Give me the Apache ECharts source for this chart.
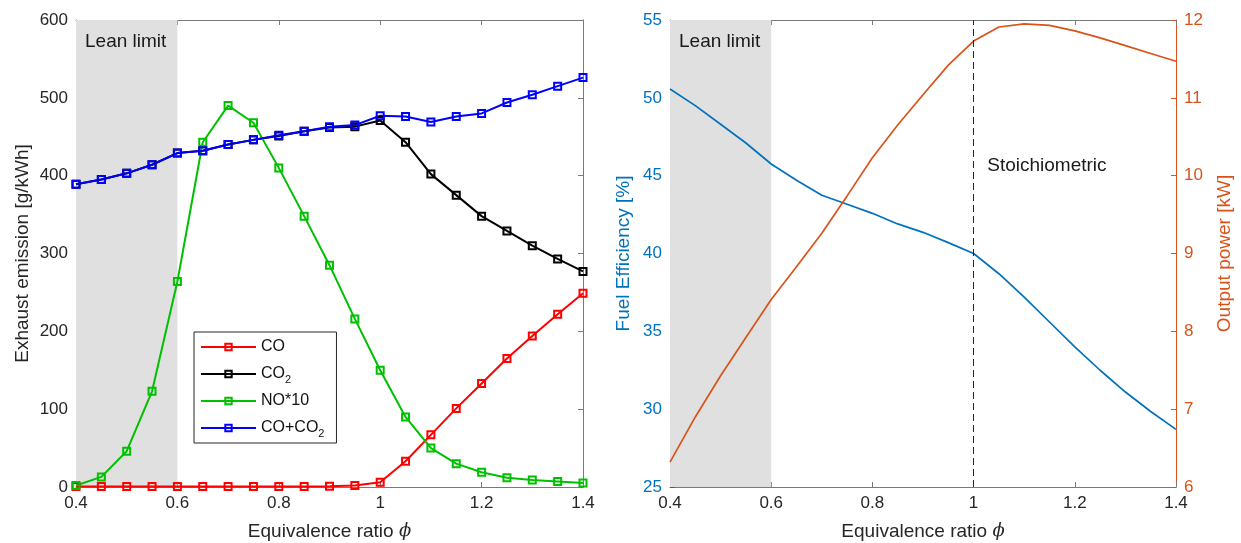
<!DOCTYPE html>
<html>
<head>
  <meta charset="UTF-8">
  <title>Emission and efficiency vs equivalence ratio</title>
  <script src="https://cdn.jsdelivr.net/npm/echarts@6/dist/echarts.min.js"></script>
  <style>
    html, body { margin: 0; padding: 0; background: #fff; }
  </style>
</head>
<body>
<div id="main" style="width: 1241px;height:543px;"></div>
<script type="text/javascript">
  // equivalence ratio samples
  var phi = [0.4, 0.45, 0.5, 0.55, 0.6, 0.65, 0.7, 0.75, 0.8, 0.85, 0.9, 0.95,
             1.0, 1.05, 1.1, 1.15, 1.2, 1.25, 1.3, 1.35, 1.4];

  // left panel, exhaust emission [g/kWh]
  var co    = [0.5, 0.5, 0.5, 0.5, 0.5, 0.5, 0.5, 0.6, 0.7, 0.8, 1, 2,
               6, 33, 67, 101, 133, 165, 194, 222, 249];
  var co2   = [389, 395, 403, 414, 429, 432, 440, 446, 451, 457, 462, 463,
               471, 443, 402, 375, 348, 329, 310, 293, 277];
  var no10  = [2, 13, 46, 123, 264, 443, 490, 468, 410, 348, 285, 216,
               150, 90, 50, 30, 19, 12, 9, 7, 5];
  var coCo2 = [389, 395, 403, 414, 429, 432, 440, 446, 452, 457, 463, 465,
               477, 476, 469, 476, 480, 494, 504, 515, 526];

  // right panel
  var efficiency = [50.57, 49.5, 48.3, 47.1, 45.75, 44.7, 43.74, 43.16, 42.58, 41.9, 41.36, 40.7,
                    40.0, 38.7, 37.2, 35.6, 34.0, 32.5, 31.1, 29.85, 28.7];
  var power = [6.32, 6.90, 7.43, 7.92, 8.41, 8.83, 9.26, 9.74, 10.23, 10.65, 11.04, 11.42,
               11.73, 11.91, 11.95, 11.93, 11.86, 11.77, 11.67, 11.57, 11.47];

  var leanLimit = [0.4, 0.6];
  var stoich = 1.0;

  var font = 'Liberation Sans, Arial, Helvetica, sans-serif';
  var txt = '#262626';
  var box = '#7a7a7a';
  var blue = '#0072BD';
  var orange = '#D95319';

  function pairs(ys) {
    return phi.map(function (p, i) { return [p, ys[i]]; });
  }
  function phiLabel(v) {
    return String(+v.toFixed(1));
  }

  function xAx(grid, pos, labels) {
    return {
      type: 'value', gridIndex: grid, position: pos,
      min: 0.4, max: 1.4, interval: 0.2,
      axisLine: { show: true, onZero: false, lineStyle: { color: box, width: 1 } },
      axisTick: { show: true, inside: true, length: 5, lineStyle: { color: box } },
      axisLabel: { show: labels, color: txt, fontSize: 17, fontFamily: font, margin: 8, formatter: phiLabel },
      splitLine: { show: false },
      name: labels ? 'Equivalence ratio {p|ϕ}' : '',
      nameLocation: 'middle', nameGap: 35,
      nameTextStyle: {
        color: txt, fontSize: 19, fontFamily: font,
        rich: { p: { fontFamily: 'DejaVu Serif', fontStyle: 'italic', fontSize: 18, color: txt } }
      }
    };
  }

  function mkLine(name, ys, color) {
    return {
      name: name, type: 'line', xAxisIndex: 0, yAxisIndex: 0,
      data: pairs(ys),
      symbol: 'rect', symbolSize: 7,
      lineStyle: { color: color, width: 2 },
      itemStyle: { color: 'rgba(0,0,0,0)', borderColor: color, borderWidth: 2 },
      emphasis: { disabled: true },
      z: 3
    };
  }

  var leanArea = {
    silent: true,
    itemStyle: { color: '#e0e0e0' },
    label: {
      show: true, position: 'insideTopLeft', distance: 8, offset: [1, 4],
      color: '#1a1a1a', fontSize: 19, fontFamily: font
    },
    data: [[{ name: 'Lean limit', xAxis: leanLimit[0] }, { xAxis: leanLimit[1] }]]
  };

  var myChart = echarts.init(document.getElementById('main'));

  var option = {
    animation: false,
    backgroundColor: '#fff',
    textStyle: { fontFamily: font },
    grid: [
      { left: 76, top: 20, width: 507, height: 467, outerBoundsMode: 'none', containLabel: false },
      { left: 670, top: 20, width: 506, height: 467, outerBoundsMode: 'none', containLabel: false }
    ],
    xAxis: [
      xAx(0, 'bottom', true),
      xAx(0, 'top', false),
      xAx(1, 'bottom', true),
      xAx(1, 'top', false)
    ],
    yAxis: [
      {
        type: 'value', gridIndex: 0, position: 'left',
        min: 0, max: 600, interval: 100,
        axisLine: { show: true, lineStyle: { color: box } },
        axisTick: { show: true, inside: true, length: 5, lineStyle: { color: box } },
        axisLabel: { color: txt, fontSize: 17, fontFamily: font, margin: 8 },
        splitLine: { show: false },
        name: 'Exhaust emission [g/kWh]', nameLocation: 'middle', nameGap: 44,
        nameTextStyle: { color: txt, fontSize: 19, fontFamily: font }
      },
      {
        type: 'value', gridIndex: 0, position: 'right',
        min: 0, max: 600, interval: 100,
        axisLine: { show: true, lineStyle: { color: box } },
        axisTick: { show: true, inside: true, length: 5, lineStyle: { color: box } },
        axisLabel: { show: false },
        splitLine: { show: false }
      },
      {
        type: 'value', gridIndex: 1, position: 'left',
        min: 25, max: 55, interval: 5,
        axisLine: { show: true, lineStyle: { color: blue } },
        axisTick: { show: true, inside: true, length: 5, lineStyle: { color: blue } },
        axisLabel: { color: blue, fontSize: 17, fontFamily: font, margin: 8 },
        splitLine: { show: false },
        name: 'Fuel Efficiency [%]', nameLocation: 'middle', nameGap: 37,
        nameTextStyle: { color: blue, fontSize: 19, fontFamily: font }
      },
      {
        type: 'value', gridIndex: 1, position: 'right',
        min: 6, max: 12, interval: 1,
        axisLine: { show: true, lineStyle: { color: orange } },
        axisTick: { show: true, inside: true, length: 5, lineStyle: { color: orange } },
        axisLabel: { color: orange, fontSize: 17, fontFamily: font, margin: 8 },
        splitLine: { show: false },
        name: 'Output power [kW]', nameLocation: 'middle', nameGap: 39,
        nameTextStyle: { color: orange, fontSize: 19, fontFamily: font }
      }
    ],
    legend: {
      data: ['CO', 'CO2', 'NO*10', 'CO+CO2'],
      orient: 'vertical',
      left: 194, top: 332,
      width: 139,
      padding: [4, 12, 4, 6],
      itemGap: 5,
      itemWidth: 55, itemHeight: 8,
      backgroundColor: '#fff',
      borderColor: '#262626', borderWidth: 1, borderRadius: 0,
      selectedMode: false,
      formatter: function (n) {
        if (n === 'CO2') return 'CO{s|2}';
        if (n === 'CO+CO2') return 'CO+CO{s|2}';
        return n;
      },
      textStyle: {
        color: '#111', fontSize: 16, fontFamily: font, lineHeight: 22,
        rich: { s: { fontSize: 11, lineHeight: 12, verticalAlign: 'bottom', fontFamily: font, color: '#111' } }
      }
    },
    series: [
      Object.assign(mkLine('CO', co, '#ff0000'), { markArea: leanArea }),
      mkLine('CO2', co2, '#000000'),
      mkLine('NO*10', no10, '#00c000'),
      mkLine('CO+CO2', coCo2, '#0000ff'),
      {
        name: 'Fuel Efficiency', type: 'line', xAxisIndex: 2, yAxisIndex: 2,
        data: pairs(efficiency), showSymbol: false, symbol: 'none',
        lineStyle: { color: blue, width: 1.7 },
        itemStyle: { color: blue },
        z: 3,
        markArea: leanArea,
        markLine: {
          silent: true, symbol: 'none',
          lineStyle: { color: txt, type: [7, 4], width: 1 },
          label: { show: false },
          data: [{ xAxis: stoich }]
        },
        markPoint: {
          silent: true, symbol: 'rect', symbolSize: 0,
          label: {
            show: true, position: 'right', distance: 0,
            formatter: 'Stoichiometric', color: '#1a1a1a', fontSize: 19, fontFamily: font
          },
          data: [{ coord: [1.027, 45.64] }]
        }
      },
      {
        name: 'Output power', type: 'line', xAxisIndex: 2, yAxisIndex: 3,
        data: pairs(power), showSymbol: false, symbol: 'none',
        lineStyle: { color: orange, width: 1.7 },
        itemStyle: { color: orange },
        z: 3
      }
    ]
  };

  myChart.setOption(option);
</script>
</body>
</html>
